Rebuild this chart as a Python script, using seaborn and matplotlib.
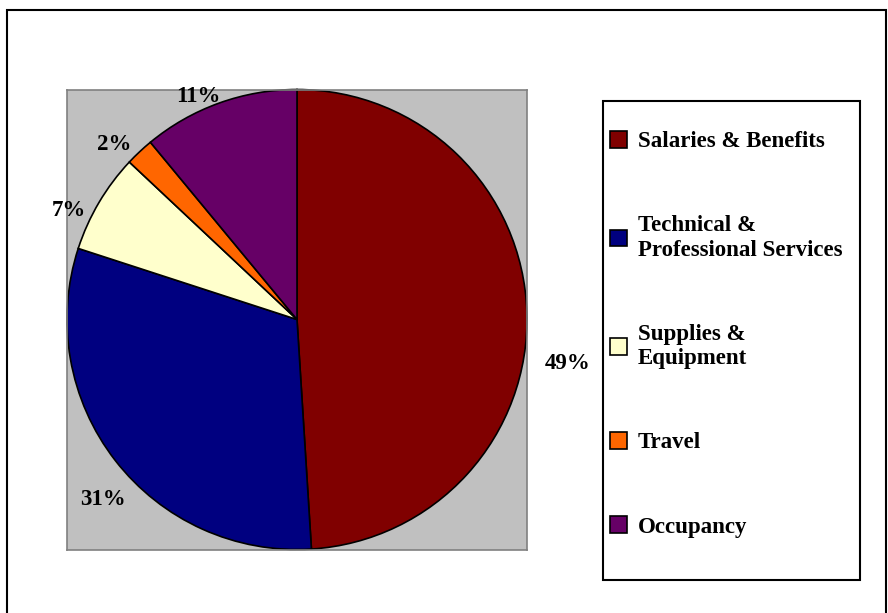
import numpy as np
import matplotlib

matplotlib.use("Agg")
import matplotlib.pyplot as plt
import seaborn as sns
from matplotlib.patches import Rectangle

categories = [
    "Salaries & Benefits",
    "Technical &\nProfessional Services",
    "Supplies &\nEquipment",
    "Travel",
    "Occupancy",
]
shares = [49, 31, 7, 2, 11]
slice_colors = ["#800000", "#000080", "#FFFFCC", "#FF6600", "#660066"]

# label placement tweaks (Excel-style outside labels)
label_shift_deg = [-11, 5, 5, 3, 4]
label_radius = [1.19, 1.15, 1.10, 1.10, 1.06]

sns.set_theme(style="white")
plt.rcParams["font.family"] = ["Liberation Serif", "DejaVu Serif"]
plt.rcParams["font.weight"] = "bold"
plt.rcParams["text.color"] = "black"

fig = plt.figure(figsize=(8.88, 6.13), dpi=100)
W, H = 888, 613


def px_rect(x0, y0, x1, y1, lw):
    # rectangle given in pixel coords (origin top-left)
    return Rectangle((x0 / W, (H - y1) / H), (x1 - x0) / W, (y1 - y0) / H,
                     transform=fig.transFigure, fill=False, edgecolor="black",
                     linewidth=lw, clip_on=False)


# outer chart frame and legend box
fig.patches.append(px_rect(7, 10, 886, 630, 1.5))
fig.patches.append(px_rect(603, 101, 860, 580, 1.5))

ax = fig.add_axes([67 / W, (H - 550) / H, 460 / W, 461 / H])
ax.set_facecolor("#C0C0C0")

wedges, _, autotexts = ax.pie(
    shares,
    colors=slice_colors,
    startangle=90,
    counterclock=False,
    autopct="%1.0f%%",
    wedgeprops=dict(edgecolor="black", linewidth=1.2),
    textprops=dict(fontsize=16.5, fontweight="bold", color="black"),
    frame=True,
)
for w in wedges:
    w.set_clip_on(False)

for w, t, shift, r in zip(wedges, autotexts, label_shift_deg, label_radius):
    mid = np.deg2rad((w.theta1 + w.theta2) / 2 + shift)
    t.set_position((r * np.cos(mid), r * np.sin(mid)))
    t.set_ha("center")
    t.set_va("center")
    t.set_clip_on(False)

ax.set_xlim(-1.0, 1.0)
ax.set_ylim(-1.0, 1.0)
ax.set_xticks([])
ax.set_yticks([])
for spine in ax.spines.values():
    spine.set_edgecolor("#808080")
    spine.set_linewidth(1.2)

leg = fig.legend(
    wedges,
    categories,
    loc="upper left",
    bbox_to_anchor=(610 / W, (H - 131) / H),
    frameon=False,
    fontsize=16.5,
    handlelength=0.75,
    handleheight=0.75,
    handletextpad=0.45,
    borderpad=0,
    labelspacing=2.75,
    borderaxespad=0,
)
for txt in leg.get_texts():
    txt.set_fontweight("bold")
    txt.set_color("black")
for h in leg.legend_handles:
    h.set_edgecolor("black")
    h.set_linewidth(1.2)

fig.savefig("out.png", dpi=100)
